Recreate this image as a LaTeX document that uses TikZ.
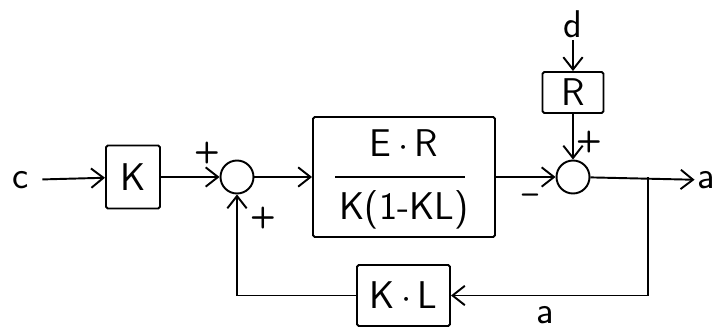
\documentclass[tikz,border=0pt]{standalone}
\usepackage{tikz}
\usetikzlibrary{arrows.meta, positioning, calc}

\begin{document}
\begin{tikzpicture}[
    x=1cm, y=1cm,
    line width=1.1pt,
    sig/.style={-{Straight Barb[length=7pt, width=11pt, line width=1.1pt]}},
    block/.style={draw, rectangle, rounded corners=1pt, font=\sffamily\fontsize{22}{26}\selectfont, inner sep=0pt},
    sum/.style={draw, circle, minimum size=0.66cm, inner sep=0pt},
    txt/.style={font=\sffamily\fontsize{22}{26}\selectfont, inner sep=1pt},
    sign/.style={font=\sffamily\bfseries\fontsize{17}{20}\selectfont, inner sep=0pt}
]
\useasboundingbox (0,0) rectangle (14.26,-6.58);

% Forward path
\node[txt] (c) at (0.42,-3.6) {c};
\node[block, minimum width=1.08cm, minimum height=1.26cm] (kbox) at (2.66,-3.54) {K};
\node[sum] (sumA) at (4.74,-3.54) {};
\node[block, minimum width=3.64cm, minimum height=2.4cm] (plant) at (8.08,-3.54) {};
\node[txt] (num) at (8.08,-2.86) {E\,$\cdot$\,R};
\node[txt] (den) at (8.08,-4.2) {K(1-KL)};
\draw (6.7,-3.54) -- (9.3,-3.54);
\node[sum] (sumB) at (11.46,-3.54) {};
\node[txt] (out) at (14.12,-3.6) {a};

\draw[sig, shorten <=6pt] (c) -- (kbox);
\draw[sig] (kbox) -- (sumA);
\draw[sig] (sumA) -- (plant);
\draw[sig] (plant) -- (sumB);
\draw[sig] (sumB) -- (out);

% Disturbance
\node[txt] (d) at (11.46,-0.48) {d};
\node[block, minimum width=1.22cm, minimum height=0.82cm] (rbox) at (11.46,-1.85) {R};
\draw[sig] (d) -- (rbox);
\draw[sig] (rbox) -- (sumB);

% Feedback
\coordinate (split) at (12.96,-3.54);
\node[block, minimum width=1.86cm, minimum height=1.22cm] (klbox) at (8.07,-5.91) {K\,$\cdot$\,L};
\node[txt] (fbl) at (10.9,-6.3) {a};
\draw[sig] (split) |- (klbox);
\draw[sig] (klbox) -| (sumA);

% Signs
\node[sign] at (4.14,-3.06) {+};
\node[sign] at (5.26,-4.36) {+};
\node[sign] at (11.78,-2.84) {+};
\node[sign] at (10.6,-3.98) {--};

\end{tikzpicture}
\end{document}
